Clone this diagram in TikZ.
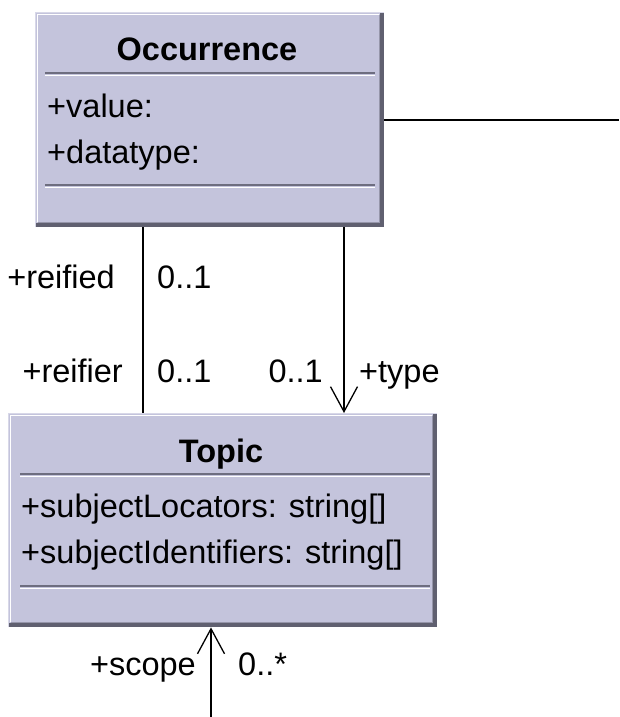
\documentclass[tikz,border=0pt]{standalone}
\usepackage{fontspec}
\setmainfont{Liberation Sans}
\usetikzlibrary{arrows.meta}
\definecolor{boxfill}{RGB}{196,196,220}
\definecolor{boxlight}{RGB}{216,216,232}
\definecolor{boxdark}{RGB}{96,96,112}
\definecolor{boxmid}{RGB}{150,150,170}
\definecolor{sepdark}{RGB}{110,110,128}
\tikzset{
  umlbox/.style={draw=none, fill=boxfill, rectangle, inner sep=0pt, anchor=north west},
  lbl/.style={font=\fontsize{32.5}{38}\selectfont, inner sep=0pt},
  ttl/.style={font=\bfseries\fontsize{32.5}{38}\selectfont, inner sep=0pt, anchor=base},
  assoc/.style={line width=2pt, black},
  openarrow/.style={-{Straight Barb[length=25pt,width=27pt,line width=1.3pt]}},
  sepd/.style={sepdark, line width=1.6pt},
  sepw/.style={white, line width=1.6pt}
}
\newcommand{\drawumlframe}[1]{%
  \fill[boxdark] ([xshift=-4pt,yshift=-1pt]#1.north east) rectangle (#1.south east);
  \fill[boxdark] ([xshift=1pt,yshift=4pt]#1.south west) rectangle (#1.south east);
  \draw[boxmid, line width=1pt] ([xshift=-4.5pt,yshift=-3pt]#1.north east) -- ([xshift=-4.5pt,yshift=4.5pt]#1.south east) -- ([xshift=3pt,yshift=4.5pt]#1.south west);
  \draw[boxlight, line width=1.2pt] ([xshift=0.6pt]#1.south west) -- ([xshift=0.6pt,yshift=-0.6pt]#1.north west) -- ([yshift=-0.6pt]#1.north east);
  \draw[white, line width=1.2pt] ([xshift=2.6pt,yshift=5pt]#1.south west) -- ([xshift=2.6pt,yshift=-2.6pt]#1.north west) -- ([xshift=-5pt,yshift=-2.6pt]#1.north east);
}
\begin{document}
\begin{tikzpicture}[x=1pt,y=-1pt]
\useasboundingbox (0,0) rectangle (619,717);
% Occurrence class
\node[umlbox, minimum width=349pt, minimum height=215pt] (occ) at (35,12) {};
\drawumlframe{occ}
\draw[sepd] (45,73) -- (375,73);
\draw[sepw] (45,75.5) -- (375,75.5);
\draw[sepd] (45,185) -- (375,185);
\draw[sepw] (45,187.5) -- (375,187.5);
\node[ttl] (occtitle) at (207,60) {Occurrence};
\node[lbl, anchor=base west] (occa1) at (47,117) {+value:};
\node[lbl, anchor=base west] (occa2) at (47,163) {+datatype:};
% Topic class
\node[umlbox, minimum width=429pt, minimum height=214pt] (topic) at (8,413) {};
\drawumlframe{topic}
\draw[sepd] (20,474) -- (430,474);
\draw[sepw] (20,476.5) -- (430,476.5);
\draw[sepd] (20,586) -- (430,586);
\draw[sepw] (20,588.5) -- (430,588.5);
\node[ttl] (toptitle) at (221,462) {Topic};
\node[lbl, anchor=base west] (topa1) at (21,517) {+subjectLocators: string[]};
\node[lbl, anchor=base west] (topa2) at (21,563) {+subjectIdentifiers: string[]};
% helper coordinates
\coordinate (xr) at (143,0);
\coordinate (xt) at (344,0);
\coordinate (xs) at (211,0);
\coordinate (yo) at (0,120);
\coordinate (rightend) at (619,120);
\coordinate (scopeend) at (211,717);
% connectors
\draw[assoc] (occ.south -| xr) -- (topic.north -| xr);
\draw[assoc, openarrow] (occ.south -| xt) -- (topic.north -| xt);
\draw[assoc] (occ.east |- yo) -- (rightend);
\draw[assoc, openarrow] (scopeend) -- (topic.south -| xs);
% labels
\node[lbl, anchor=base east] (lreified) at (115,288) {+reified};
\node[lbl, anchor=base west] (mreified) at (157,288) {0..1};
\node[lbl, anchor=base east] (lreifier) at (123,382) {+reifier};
\node[lbl, anchor=base west] (mreifier) at (157,382) {0..1};
\node[lbl, anchor=base east] (mtype) at (323,382) {0..1};
\node[lbl, anchor=base west] (ltype) at (359,382) {+type};
\node[lbl, anchor=base east] (lscope) at (196,675) {+scope};
\node[lbl, anchor=base west] (mscope) at (238,675) {0..*};
\end{tikzpicture}
\end{document}
